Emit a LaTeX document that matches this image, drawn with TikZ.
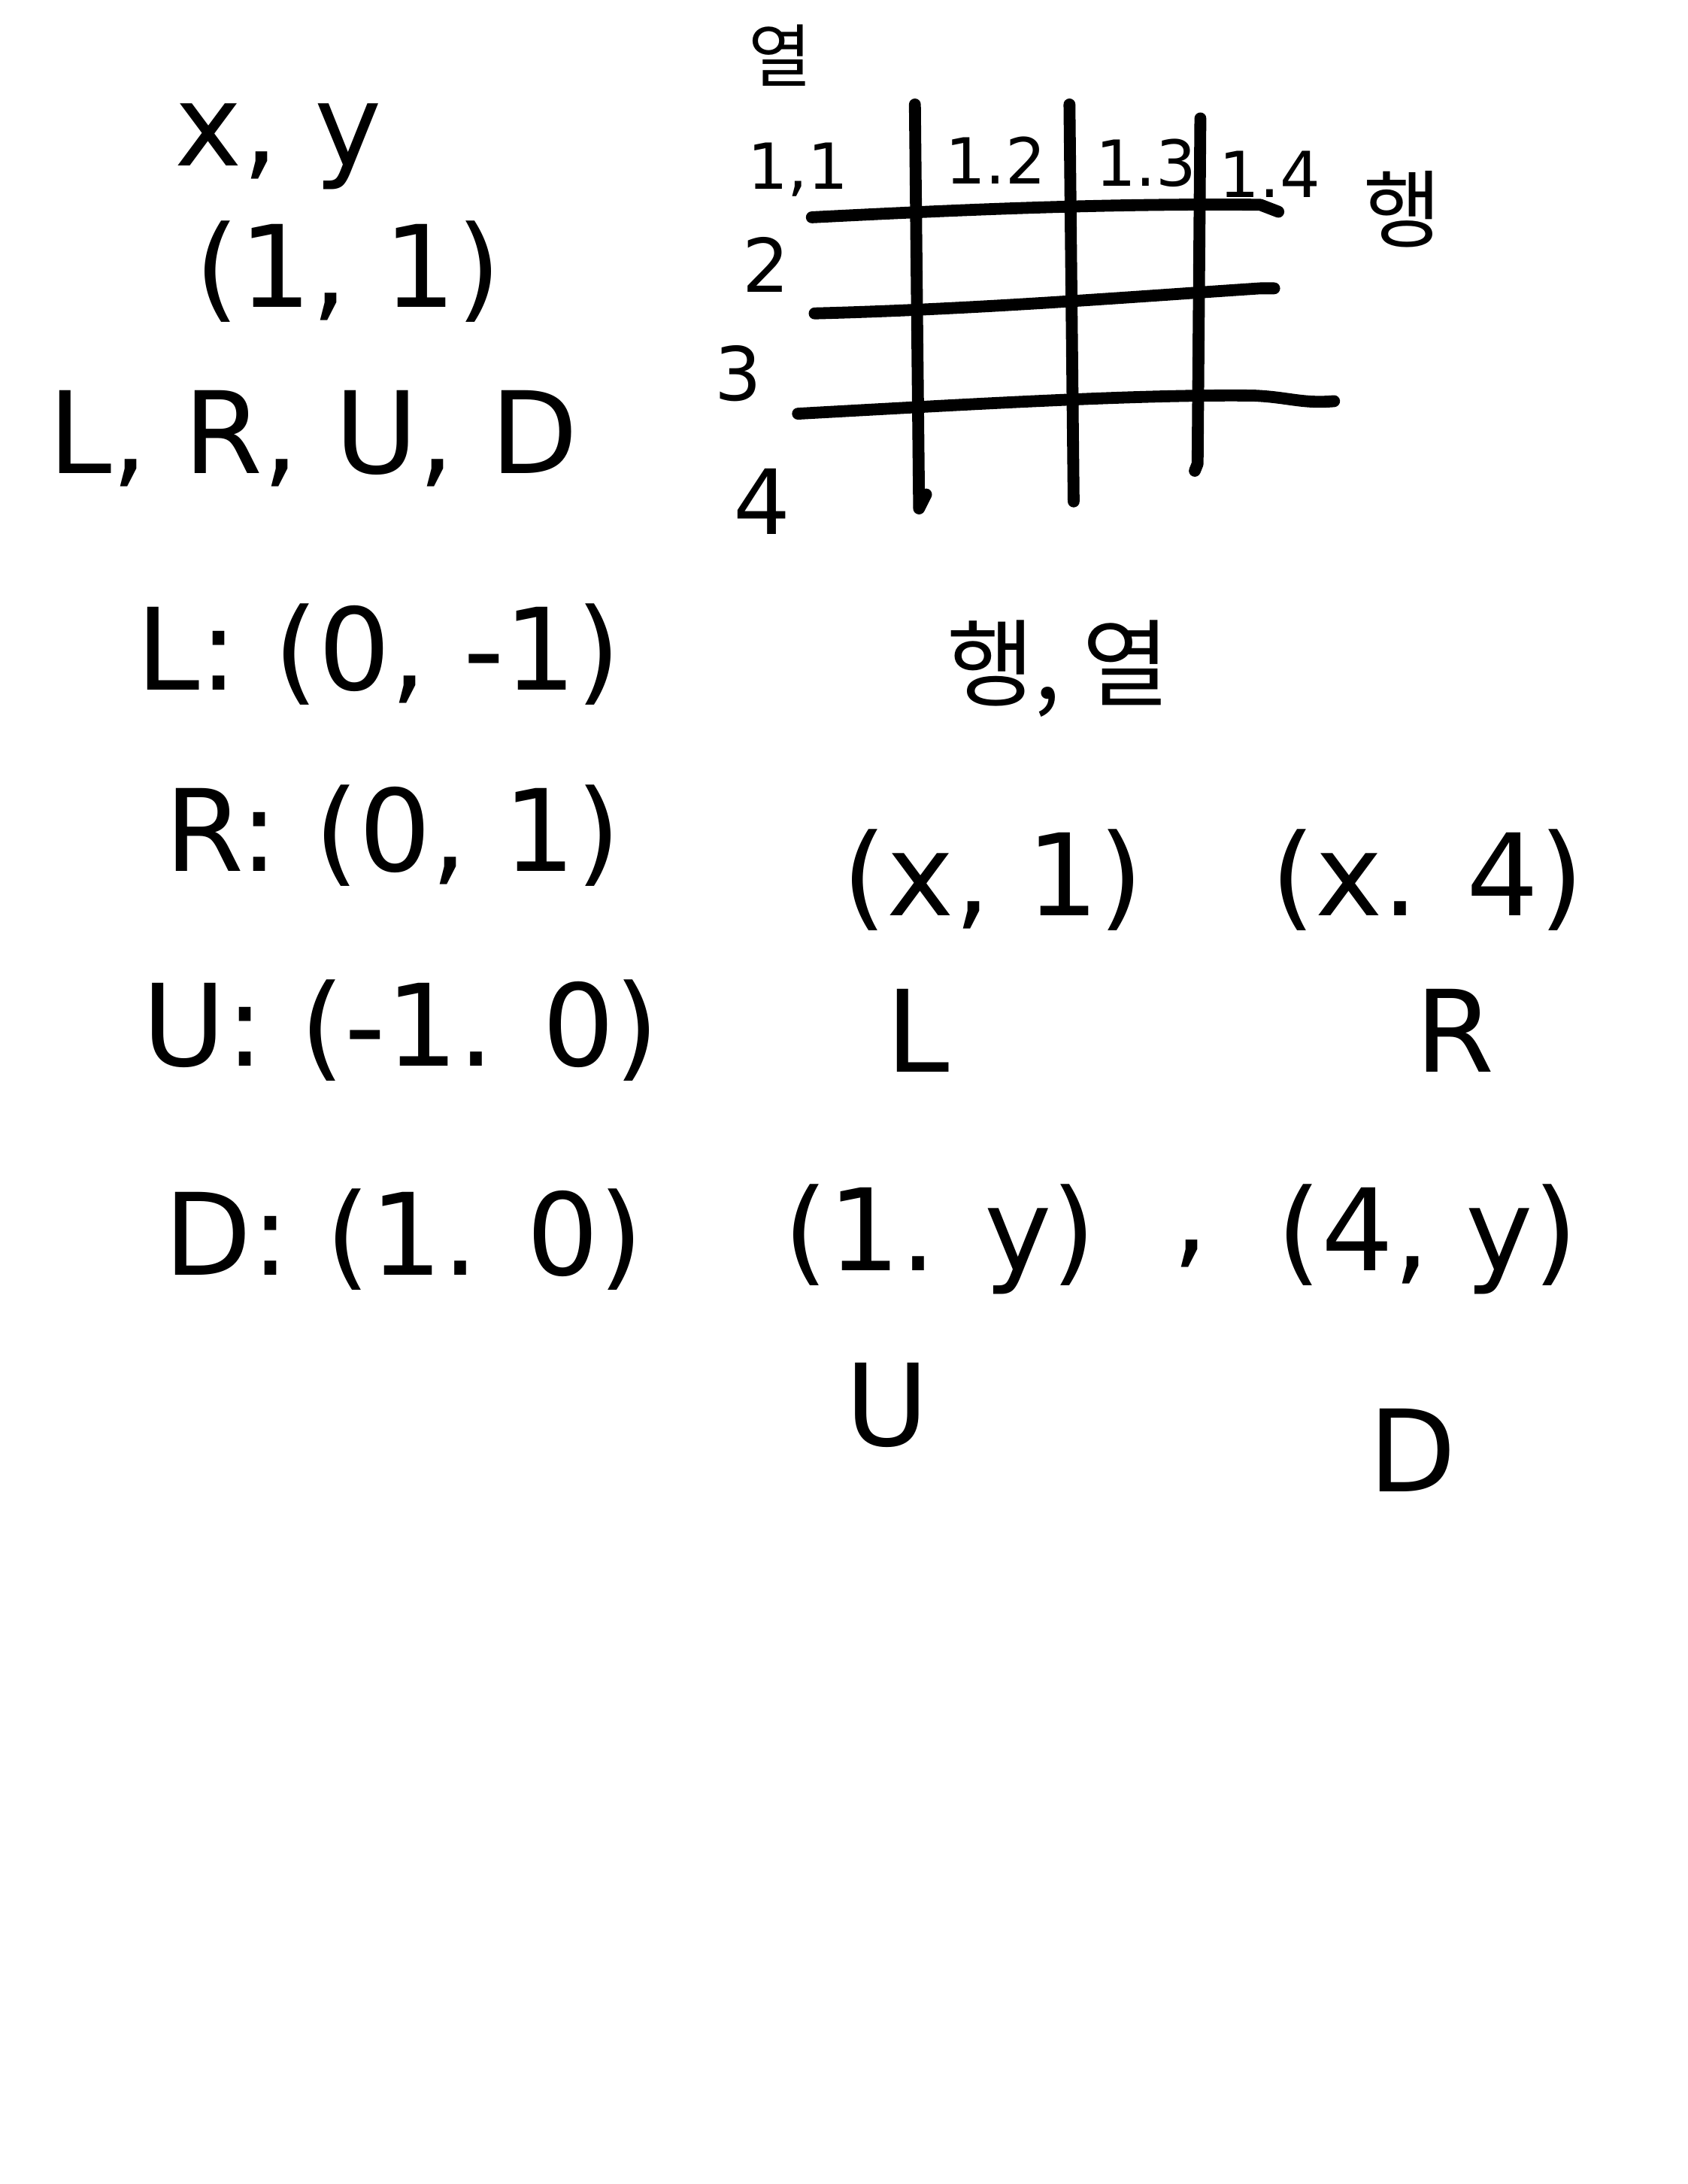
\documentclass[tikz,border=0pt]{standalone}
\usepackage{fontspec}
\setmainfont{DejaVu Sans}
\newfontfamily\kr{Noto Sans CJK KR}
\usepackage{tikz}
\usetikzlibrary{positioning}
\tikzstyle{note} = [inner sep=0pt, font=\fontsize{43}{50}\selectfont]
\tikzstyle{tag} = [inner sep=0pt, font=\fontsize{24}{28}\selectfont]
\tikzstyle{hangul} = [inner sep=0pt, font=\kr\fontsize{36}{42}\selectfont]
\tikzstyle{pen} = [line width=4.5pt, line cap=round, line join=round]

\begin{document}
\begin{tikzpicture}[x=0.018515cm, y=-0.018515cm, node distance=2cm]
    \useasboundingbox (0,0) rectangle (1212,1568);

    % left column
    \node (xy) [note] at (200,105) {x, y};
    \node (start) [note] at (250,195) {(1, 1)};
    \node (dirs) [note] at (225,315) {L, R, U, D};
    \node (left) [note] at (272,470) {L: (0, -1)};
    \node (right) [note] at (282,600) {R: (0, 1)};
    \node (up) [note] at (288,740) {U: (-1. 0)};
    \node (down) [note] at (290,890) {D: (1. 0)};

    % grid
    \node (col) [hangul, font=\kr\fontsize{26}{30}\selectfont] at (560,40) {열};
    \node (row) [hangul, font=\kr\fontsize{32}{36}\selectfont] at (1007,150) {행};
    \node (c1) [tag] at (573,122) {1,1};
    \node (c2) [tag] at (715,115) {1.2};
    \node (c3) [tag] at (823,117) {1.3};
    \node (c4) [tag] at (912,125) {1.4};
    \node (r2) [tag, font=\fontsize{28}{32}\selectfont] at (550,190) {2};
    \node (r3) [tag, font=\fontsize{28}{32}\selectfont] at (530,268) {3};
    \node (r4) [tag, font=\fontsize{34}{38}\selectfont] at (547,360) {4};

    \draw [pen] (583,156) .. controls (700,150) and (800,146) .. (905,147) -- (918,152);
    \draw [pen] (585,225) .. controls (700,222) and (800,214) .. (905,207) -- (915,207);
    \draw [pen] (573,297) .. controls (700,290) and (820,283) .. (900,284) .. controls (925,285) and (935,290) .. (958,288);
    \draw [pen] (657,75) -- (660,365) -- (665,355);
    \draw [pen] (768,75) -- (771,360);
    \draw [pen] (862,85) -- (860,333) -- (858,338);

    % right column
    \node (rowcol) [hangul] at (760,480) {행, 열};
    \node (xone) [note] at (713,632) {(x, 1)};
    \node (xfour) [note] at (1025,632) {(x. 4)};
    \node (lmark) [note, below of=xone, xshift=-1cm] {L};
    \node (rmark) [note, below of=xfour, xshift=0.37cm] {R};
    \node (yone) [note] at (675,890) {(1. y)};
    \node (sep) [note] at (855,900) {,};
    \node (yfour) [note] at (1025,890) {(4, y)};
    \node (umark) [note, below of=yone, xshift=-0.7cm, yshift=-0.2cm] {U};
    \node (dmark) [note, below of=yfour, xshift=-0.2cm, yshift=-0.8cm] {D};
\end{tikzpicture}
\end{document}
